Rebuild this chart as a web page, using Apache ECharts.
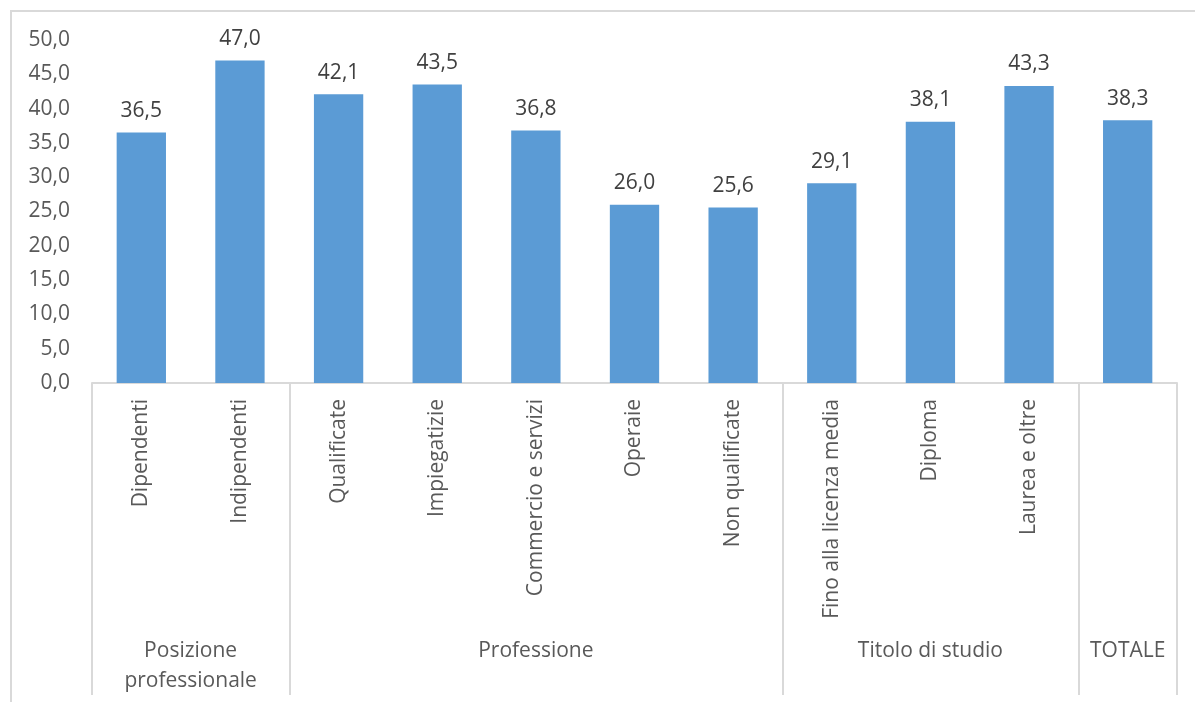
<!DOCTYPE html>
<html>
  <head>
    <meta charset="utf-8" />
    <title>ECharts - Bar by group</title>
    <script src="https://cdn.jsdelivr.net/npm/echarts@6.0.0/dist/echarts.min.js"></script>
    <style>
      body { margin: 0; background: #fff; }
      #frame { position: absolute; left: 10px; top: 10px; width: 1200px; height: 700px;
               border-left: 2px solid #d9d9d9; border-top: 2px solid #d9d9d9; }
      #main { position: absolute; left: 0; top: 0; width: 1195px; height: 702px; }
    </style>
  </head>
  <body>
    <div id="frame"></div>
    <div id="main"></div>

    <script type="text/javascript">
      var categories = ['Dipendenti', 'Indipendenti', 'Qualificate', 'Impiegatizie',
        'Commercio e servizi', 'Operaie', 'Non qualificate',
        'Fino alla licenza media', 'Diploma', 'Laurea e oltre', ''];
      var values = [36.5, 47.0, 42.1, 43.5, 36.8, 26.0, 25.6, 29.1, 38.1, 43.3, 38.3];

      // groups: label and number of categories in each
      var groupNames = ['Posizione\nprofessionale', 'Professione', 'Titolo di studio', 'TOTALE'];
      var groupSizes = [2, 5, 3, 1];

      var yTicks = [0, 5, 10, 15, 20, 25, 30, 35, 40, 45, 50];

      // second axis on half-category points: dividers at group edges, labels at group centres
      var halfPoints = [];
      for (var i = 0; i <= categories.length * 2; i++) halfPoints.push('');
      var dividers = [0];
      var pos = 0;
      for (var g = 0; g < groupSizes.length; g++) {
        halfPoints[pos * 2 + groupSizes[g]] = groupNames[g];
        pos += groupSizes[g];
        dividers.push(pos * 2);
      }

      var fmt = function (v) { return v.toFixed(1).replace('.', ','); };
      var font = '"Open Sans", sans-serif';
      var grey = '#d9d9d9';
      var fs = 21;

      var chart = echarts.init(document.getElementById('main'));
      var option = {
        animation: false,
        grid: { left: 92, right: 18, top: 40, bottom: 319 },
        xAxis: [
          {
            type: 'category',
            data: categories,
            axisLine: { lineStyle: { color: grey, width: 2 } },
            axisTick: { show: false },
            axisLabel: {
              interval: 0, rotate: 90, margin: 16,
              fontSize: fs, fontFamily: font, color: '#595959'
            }
          },
          {
            type: 'category',
            position: 'bottom',
            boundaryGap: false,
            data: halfPoints,
            axisLine: { show: false },
            axisTick: {
              show: true,
              interval: function (idx) { return dividers.indexOf(idx) >= 0; },
              length: 312,
              lineStyle: { color: grey, width: 2 }
            },
            axisLabel: {
              interval: 0, margin: 253, verticalAlign: 'top', lineHeight: 30,
              fontSize: fs, fontFamily: font, color: '#595959'
            }
          }
        ],
        yAxis: {
          type: 'value',
          min: yTicks[0],
          max: yTicks[yTicks.length - 1],
          interval: 5,
          axisLine: { show: false },
          axisTick: { show: false },
          splitLine: { show: false },
          axisLabel: {
            margin: 22, fontSize: fs, fontFamily: font, color: '#595959',
            formatter: fmt
          }
        },
        series: [
          {
            type: 'bar',
            data: values,
            barCategoryGap: '50%',
            itemStyle: { color: '#5b9bd5' },
            label: {
              show: true, position: 'top', distance: 11,
              fontSize: fs, fontFamily: font, color: '#404040',
              formatter: function (p) { return fmt(p.value); }
            }
          }
        ]
      };
      chart.setOption(option);
    </script>
  </body>
</html>
